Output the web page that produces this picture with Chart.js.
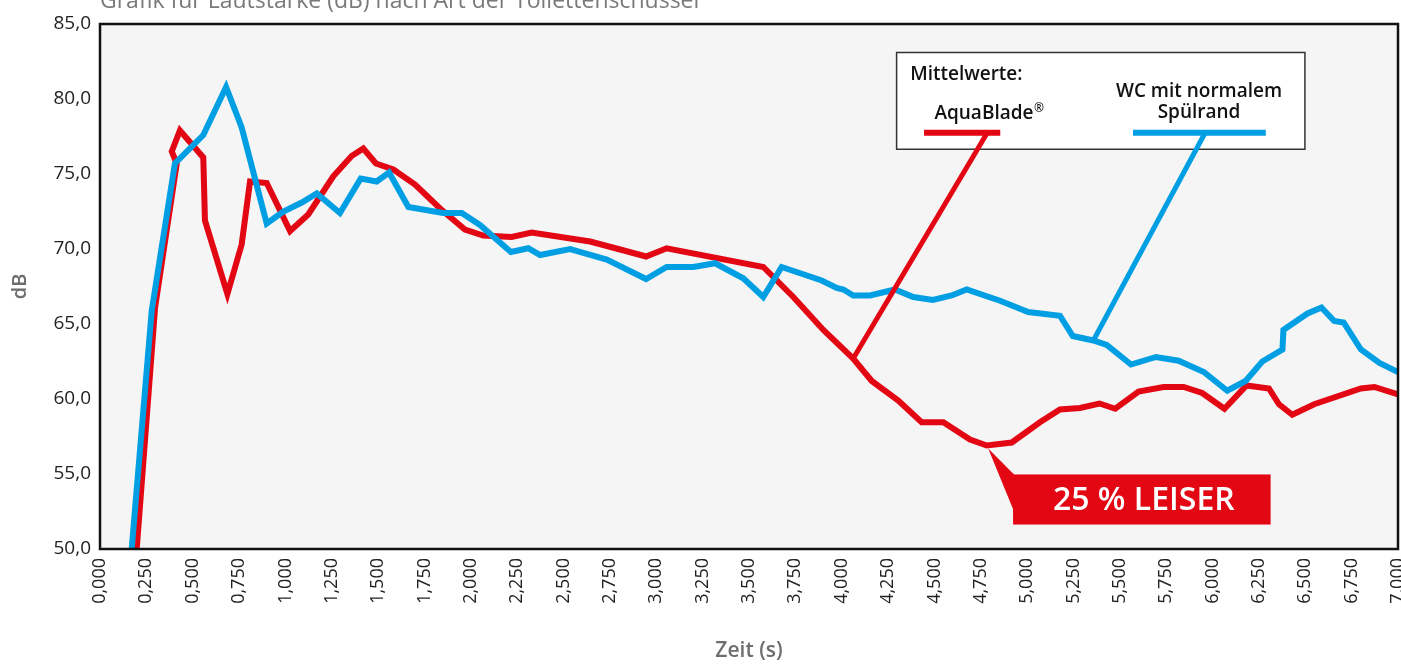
<!DOCTYPE html>
<html lang="de">
<head>
<meta charset="utf-8">
<script src="https://cdn.jsdelivr.net/npm/chart.js@4.4.1/dist/chart.umd.min.js"></script>
<style>
  body { margin: 0; background: #fff; }
  #wrap { position: relative; width: 1401px; height: 664px; overflow: hidden; }
  #title {
    position: absolute; left: 100px; top: -17px;
    font: 23px "Open Sans", sans-serif; color: #7a7a7a; white-space: nowrap;
  }
</style>
</head>
<body>
<div id="wrap">
  <canvas id="chart"></canvas>
  <div id="title">Grafik für Lautstärke (dB) nach Art der Toilettenschüssel</div>
</div>
<script>
// Zeit (s) / dB – WC mit normalem Spülrand
const normalTime = [0.171, 0.279, 0.404, 0.557, 0.680, 0.764, 0.899, 0.989, 1.088, 1.169,
  1.294, 1.406, 1.492, 1.559, 1.663, 1.850, 1.951, 2.049, 2.216, 2.310,
  2.373, 2.535, 2.733, 2.945, 3.056, 3.200, 3.317, 3.469, 3.577, 3.676,
  3.892, 3.973, 4.009, 4.062, 4.153, 4.287, 4.386, 4.491, 4.593, 4.674,
  4.854, 5.006, 5.177, 5.246, 5.357, 5.429, 5.560, 5.695, 5.817, 5.953,
  6.079, 6.178, 6.268, 6.377, 6.382, 6.512, 6.587, 6.656, 6.707, 6.800,
  6.900, 7.000];
const normalDb = [50.0, 65.9, 75.7, 77.6, 80.8, 78.1, 71.7, 72.5, 73.1, 73.7,
  72.4, 74.7, 74.5, 75.1, 72.8, 72.4, 72.4, 71.6, 69.8, 70.05,
  69.6, 70.0, 69.3, 68.0, 68.8, 68.8, 69.05, 68.05, 66.8, 68.8,
  67.9, 67.4, 67.3, 66.9, 66.9, 67.3, 66.8, 66.6, 66.9, 67.3,
  66.55, 65.8, 65.55, 64.2, 63.9, 63.6, 62.3, 62.8, 62.55, 61.8,
  60.55, 61.2, 62.5, 63.3, 64.6, 65.7, 66.1, 65.2, 65.1, 63.3,
  62.4, 61.8];

// Zeit (s) / dB – AquaBlade
const aquaTime = [0.198, 0.297, 0.414, 0.387, 0.431, 0.557, 0.566, 0.687, 0.764, 0.809,
  0.899, 1.025, 1.123, 1.258, 1.357, 1.420, 1.488, 1.582, 1.699, 1.834,
  1.968, 2.067, 2.220, 2.328, 2.643, 2.795, 2.945, 3.056, 3.577, 3.739,
  3.901, 4.062, 4.162, 4.305, 4.431, 4.548, 4.692, 4.782, 4.917, 5.069,
  5.177, 5.285, 5.390, 5.475, 5.601, 5.736, 5.844, 5.944, 6.064, 6.183,
  6.304, 6.358, 6.430, 6.548, 6.800, 6.873, 7.000];
const aquaDb = [50.0, 66.1, 75.7, 76.5, 77.9, 76.1, 71.9, 67.0, 70.3, 74.5,
  74.4, 71.2, 72.3, 74.85, 76.2, 76.7, 75.7, 75.3, 74.3, 72.7,
  71.3, 70.9, 70.8, 71.1, 70.5, 70.0, 69.5, 70.05, 68.8, 66.8,
  64.6, 62.7, 61.2, 59.9, 58.45, 58.45, 57.3, 56.9, 57.1, 58.45,
  59.3, 59.4, 59.7, 59.35, 60.5, 60.8, 60.8, 60.4, 59.35, 60.9,
  60.7, 59.65, 58.95, 59.65, 60.7, 60.8, 60.3];

const seriesNames = ['AquaBlade', 'WC mit normalem Spülrand'];
const legendHeading = 'Mittelwerte:';
const calloutText = '25 % LEISER';

const RED = '#e30613';
const BLUE = '#009fe3';
const NOTE_FONT = '"Open Sans", sans-serif';

const toPoints = (xs, ys) => xs.map((x, i) => ({ x: x, y: ys[i] }));
const comma = (v, d) => Number(v).toFixed(d).replace('.', ',');

// plot background + frame
const framePlugin = {
  id: 'frame',
  beforeDraw(chart) {
    const { ctx, chartArea: a } = chart;
    ctx.save();
    ctx.fillStyle = '#f5f5f5';
    ctx.fillRect(a.left, a.top, a.right - a.left, a.bottom - a.top);
    ctx.restore();
  },
  afterDraw(chart) {
    const { ctx, chartArea: a } = chart;
    ctx.save();
    ctx.strokeStyle = '#111';
    ctx.lineWidth = 2.5;
    ctx.strokeRect(a.left, a.top, a.right - a.left, a.bottom - a.top);
    ctx.restore();
  }
};

// legend box with leader lines and the "25 % LEISER" callout
const notesPlugin = {
  id: 'notes',
  afterDatasetsDraw(chart) {
    const { ctx, scales: { x, y } } = chart;
    const px = v => x.getPixelForValue(v);
    const py = v => y.getPixelForValue(v);
    ctx.save();

    // legend box
    const bl = px(4.296), br = px(6.498), bt = py(83.1), bb = py(76.65);
    ctx.fillStyle = '#fff';
    ctx.fillRect(bl, bt, br - bl, bb - bt);
    ctx.strokeStyle = '#333';
    ctx.lineWidth = 1.5;
    ctx.strokeRect(bl, bt, br - bl, bb - bt);

    ctx.lineCap = 'butt';
    ctx.lineWidth = 5;
    // leader lines
    ctx.strokeStyle = RED;
    ctx.beginPath();
    ctx.moveTo(px(4.062), py(62.7));
    ctx.lineTo(px(4.785), py(77.75));
    ctx.stroke();
    ctx.strokeStyle = BLUE;
    ctx.beginPath();
    ctx.moveTo(px(5.357), py(63.9));
    ctx.lineTo(px(5.960), py(77.75));
    ctx.stroke();

    // legend swatches
    ctx.lineWidth = 6;
    ctx.strokeStyle = RED;
    ctx.beginPath();
    ctx.moveTo(px(4.444), py(77.75));
    ctx.lineTo(px(4.855), py(77.75));
    ctx.stroke();
    ctx.strokeStyle = BLUE;
    ctx.beginPath();
    ctx.moveTo(px(5.571), py(77.75));
    ctx.lineTo(px(6.287), py(77.75));
    ctx.stroke();

    // legend texts
    ctx.fillStyle = '#111';
    ctx.font = '600 19px ' + NOTE_FONT;
    ctx.textBaseline = 'middle';
    ctx.textAlign = 'left';
    ctx.fillText(legendHeading, px(4.369), py(81.6));

    // AquaBlade with superscript ®
    const aw = ctx.measureText(seriesNames[0]).width;
    ctx.font = '600 12px ' + NOTE_FONT;
    const rw = ctx.measureText('®').width;
    const ax = px(4.794) - (aw + rw) / 2;
    ctx.fillText('®', ax + aw + 0.5, py(79.02) - 5);
    ctx.font = '600 19px ' + NOTE_FONT;
    ctx.fillText(seriesNames[0], ax, py(79.02));

    ctx.textAlign = 'center';
    const parts = seriesNames[1].split(' ');
    ctx.fillText(parts.slice(0, 3).join(' '), px(5.927), py(80.5));
    ctx.fillText(parts.slice(3).join(' '), px(5.927), py(79.1));

    // callout
    const cl = px(4.924), cr = px(6.313), ct = py(54.97), cb = py(51.63);
    ctx.fillStyle = RED;
    ctx.fillRect(cl, ct, cr - cl, cb - ct);
    ctx.beginPath();
    ctx.moveTo(px(4.79), py(56.7));
    ctx.lineTo(cl + 1, ct);
    ctx.lineTo(cl + 1, py(52.5));
    ctx.closePath();
    ctx.fill();
    ctx.fillStyle = '#fff';
    ctx.font = '600 32px ' + NOTE_FONT;
    ctx.textAlign = 'center';
    ctx.fillText(calloutText, (cl + cr) / 2 + 2, (ct + cb) / 2 + 1);

    ctx.restore();
  }
};

new Chart(document.getElementById('chart'), {
  type: 'line',
  data: {
    datasets: [
      {
        label: seriesNames[1],
        data: toPoints(normalTime, normalDb),
        borderColor: BLUE,
        borderWidth: 6,
        pointRadius: 0,
        tension: 0,
        borderJoinStyle: 'miter'
      },
      {
        label: seriesNames[0],
        data: toPoints(aquaTime, aquaDb),
        borderColor: RED,
        borderWidth: 6,
        pointRadius: 0,
        tension: 0,
        borderJoinStyle: 'miter'
      }
    ]
  },
  options: {
    responsive: true,
    maintainAspectRatio: false,
    animation: false,
    layout: { autoPadding: false, padding: { top: 24, right: 3, left: 0, bottom: 0 } },
    plugins: {
      legend: { display: false },
      tooltip: { enabled: false }
    },
    scales: {
      x: {
        type: 'linear',
        min: 0,
        max: 7,
        grid: { display: false, drawTicks: false },
        border: { display: false },
        ticks: {
          stepSize: 0.25,
          autoSkip: false,
          minRotation: 90,
          maxRotation: 90,
          padding: 9,
          color: '#222',
          font: { family: '"Open Sans", sans-serif', size: 18 },
          callback: v => comma(v, 3)
        },
        title: {
          display: true,
          text: 'Zeit (s)',
          color: '#6e6e6e',
          padding: { top: 0, bottom: 0 },
          font: { family: '"Open Sans", sans-serif', size: 21, weight: '600' }
        },
        afterFit: s => { s.height = 115; s.paddingLeft = 0; s.paddingRight = 0; }
      },
      y: {
        min: 50,
        max: 85,
        grid: { display: false, drawTicks: false },
        border: { display: false },
        ticks: {
          stepSize: 5,
          padding: 9,
          color: '#222',
          font: { family: '"Open Sans", sans-serif', size: 19 },
          callback: v => comma(v, 1)
        },
        title: {
          display: true,
          text: 'dB',
          color: '#6e6e6e',
          padding: { top: 8, bottom: 0 },
          font: { family: '"Open Sans", sans-serif', size: 20, weight: '600' }
        },
        afterFit: s => { s.width = 100; s.paddingTop = 0; s.paddingBottom = 0; }
      }
    }
  },
  plugins: [framePlugin, notesPlugin]
});
</script>
</body>
</html>
